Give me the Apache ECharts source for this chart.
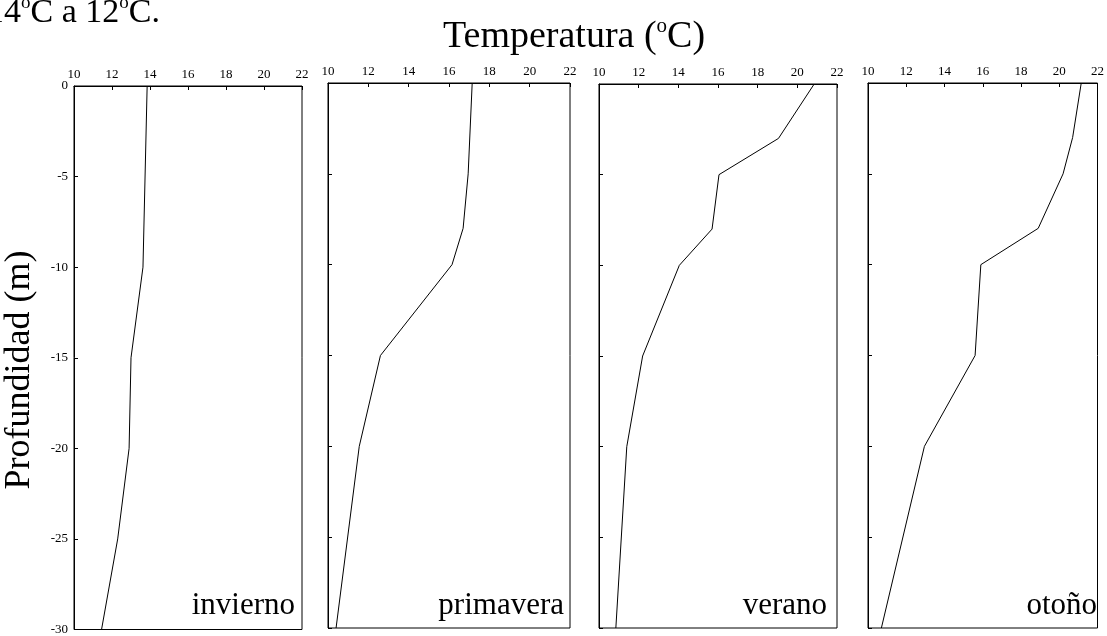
<!DOCTYPE html>
<html>
<head>
<meta charset="utf-8">
<script src="https://cdn.jsdelivr.net/npm/echarts@6/dist/echarts.min.js"></script>
<style>
html,body{margin:0;padding:0;background:#fff;}
#c{width:1107px;height:636px;}
</style>
</head>
<body>
<div id="c"></div>
<script>
// ---- data ----
const seasons = ['invierno', 'primavera', 'verano', 'otoño'];
const depthInvierno = [0, -10, -15, -20, -25, -30];
const tempInvierno  = [13.85, 13.63, 13.0, 12.9, 12.3, 11.45];
const depthPrimavera = [0, -5, -8, -10, -15, -20, -30];
const tempPrimavera  = [17.15, 16.95, 16.7, 16.15, 12.6, 11.55, 10.4];
const depthVerano = [0, -3, -5, -8, -10, -15, -20, -30];
const tempVerano  = [20.85, 19.05, 16.05, 15.7, 14.05, 12.2, 11.4, 10.85];
const depthOtono = [0, -3, -5, -8, -10, -15, -20, -30];
const tempOtono  = [21.15, 20.7, 20.2, 18.9, 15.9, 15.6, 12.95, 10.7];
const xTicks = [10, 12, 14, 16, 18, 20, 22];
const yTicks = [0, -5, -10, -15, -20, -25, -30];

const depths = [depthInvierno, depthPrimavera, depthVerano, depthOtono];
const temps = [tempInvierno, tempPrimavera, tempVerano, tempOtono];

const FONT = "'Liberation Serif', 'Times New Roman', serif";
const grids = [
  {left: 74, top: 86, width: 228, height: 545},
  {left: 328, top: 83, width: 242, height: 545},
  {left: 599, top: 84, width: 238, height: 544},
  {left: 868, top: 83, width: 235, height: 545}
];
const labelRight = [295, 564, 827, 1097];

const chart = echarts.init(document.getElementById('c'), null, {renderer: 'canvas'});
const option = {
  animation: false,
  backgroundColor: '#fff',
  grid: grids.map(g => Object.assign({show: true, borderColor: '#000', borderWidth: 1, backgroundColor: 'transparent', containLabel: false}, g)),
  xAxis: grids.map((g, i) => ({
    gridIndex: i, type: 'value', position: 'top',
    min: xTicks[0], max: xTicks[xTicks.length - 1], interval: 2,
    axisLine: {show: true, lineStyle: {color: '#000', width: 1}},
    axisTick: {show: true, inside: true, length: 4, lineStyle: {color: '#000'}},
    axisLabel: {show: true, fontFamily: FONT, fontSize: 13, color: '#000', margin: 5},
    splitLine: {show: false}
  })),
  yAxis: grids.map((g, i) => ({
    gridIndex: i, type: 'value',
    min: yTicks[yTicks.length - 1], max: yTicks[0], interval: 5,
    axisLine: {show: true, lineStyle: {color: '#000', width: 1}},
    axisTick: {show: true, inside: true, length: 4, lineStyle: {color: '#000'}},
    axisLabel: {show: i === 0, fontFamily: FONT, fontSize: 13, color: '#000', margin: 6},
    splitLine: {show: false}
  })),
  series: seasons.map((s, i) => ({
    name: s, type: 'line', xAxisIndex: i, yAxisIndex: i,
    data: depths[i].map((d, j) => [temps[i][j], d]),
    symbol: 'none', silent: true,
    lineStyle: {color: '#000', width: 1}
  })),
  graphic: [
    {
      type: 'text', left: 443, top: 14,
      style: {
        text: '{n|Temperatura (}{s|o}{n|C)}',
        rich: {
          n: {fontFamily: FONT, fontSize: 38, fill: '#000', lineHeight: 42, verticalAlign: 'bottom'},
          s: {fontFamily: FONT, fontSize: 21, fill: '#000', lineHeight: 42, verticalAlign: 'top', padding: [2, 0, 0, 0]}
        }
      }
    },
    {
      type: 'text', left: -13, top: -8,
      style: {
        text: '{n|14}{s|o}{n|C a 12}{s|o}{n|C.}',
        rich: {
          n: {fontFamily: FONT, fontSize: 34, fill: '#000', lineHeight: 38, verticalAlign: 'bottom'},
          s: {fontFamily: FONT, fontSize: 19, fill: '#000', lineHeight: 38, verticalAlign: 'top', padding: [2, 0, 0, 0]}
        }
      }
    },
    {
      type: 'text', x: 20, y: 370, rotation: Math.PI / 2,
      style: {
        text: 'Profundidad (m)', fontFamily: FONT, fontSize: 36, fill: '#000',
        textAlign: 'center', textVerticalAlign: 'middle'
      }
    }
  ].concat(seasons.map((s, i) => ({
    type: 'text', x: labelRight[i], y: 621,
    style: {text: s, fontFamily: FONT, fontSize: 31, fill: '#000', textAlign: 'right', textVerticalAlign: 'bottom'}
  })))
};
chart.setOption(option);
</script>
</body>
</html>
